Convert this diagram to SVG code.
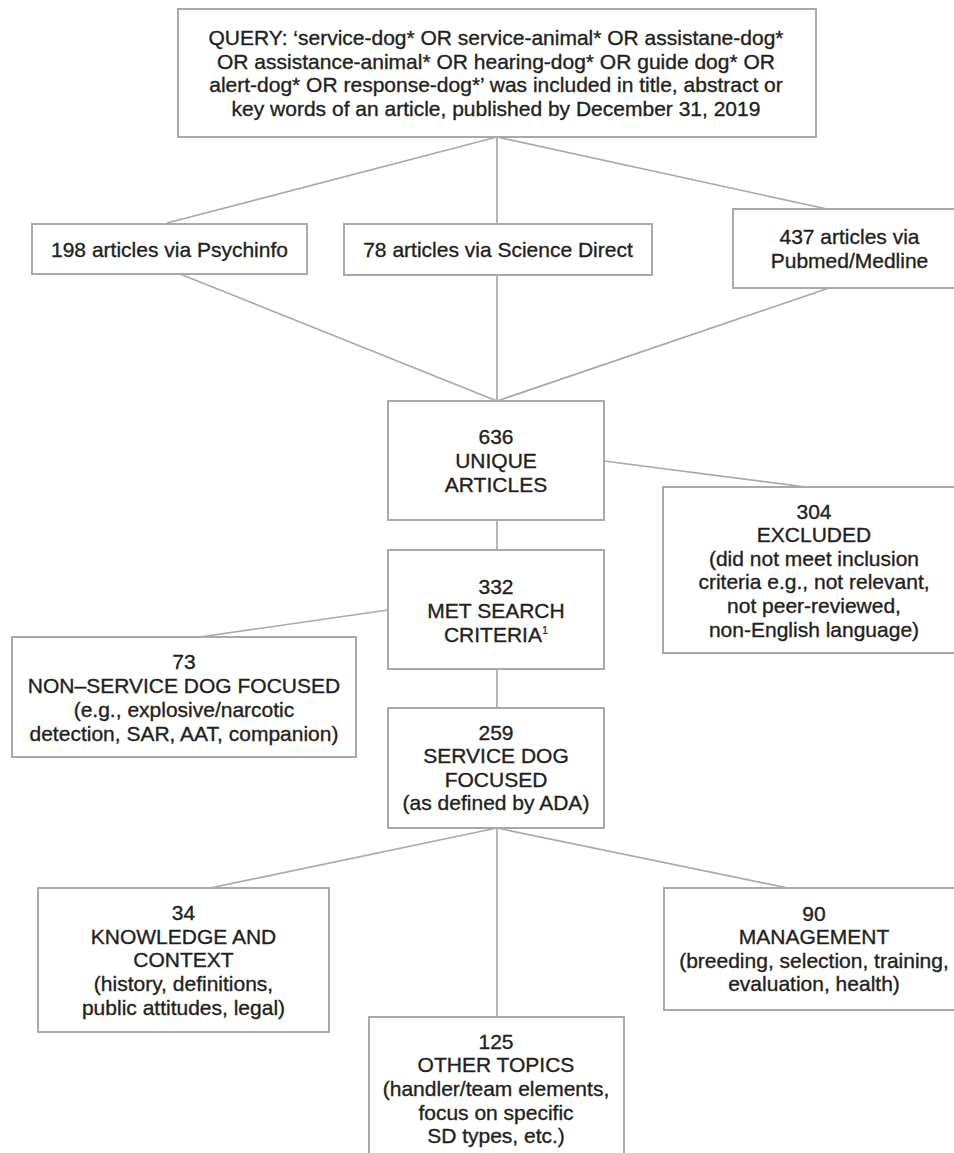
<svg xmlns="http://www.w3.org/2000/svg" width="954" height="1153" viewBox="0 0 954 1153">
<style>
.box{fill:#ffffff;stroke:#a7a9ac;stroke-width:2}
.edge{fill:none;stroke:#a7a9ac;stroke-width:1.7}
text{font-family:"Liberation Sans",Arial,Helvetica,sans-serif;font-size:21px;fill:#231f20;stroke:#231f20;stroke-width:0.35;text-anchor:middle}
.sup{font-size:11px;stroke-width:0.2}
</style>
<rect width="954" height="1153" fill="#ffffff"/>
<g id="connectors">
<line class="edge" x1="497" y1="137" x2="167" y2="223"/>
<line class="edge" x1="497" y1="137" x2="497" y2="224"/>
<line class="edge" x1="497" y1="137" x2="827" y2="209"/>
<line class="edge" x1="180" y1="274" x2="497" y2="401"/>
<line class="edge" x1="497" y1="275" x2="497" y2="401"/>
<line class="edge" x1="829" y1="288" x2="497" y2="401"/>
<line class="edge" x1="604" y1="461" x2="806" y2="487"/>
<line class="edge" x1="497" y1="520" x2="497" y2="550"/>
<line class="edge" x1="388" y1="610" x2="200" y2="637"/>
<line class="edge" x1="497" y1="669" x2="497" y2="708"/>
<line class="edge" x1="497" y1="828" x2="210" y2="888"/>
<line class="edge" x1="497" y1="828" x2="497" y2="1017"/>
<line class="edge" x1="497" y1="828" x2="788" y2="888"/>
</g>
<g id="query">
<rect class="box" x="178" y="9" width="638" height="128"/>
<text x="496" y="45">QUERY: ‘service-dog* OR service-animal* OR assistane-dog*</text>
<text x="496" y="68.5">OR assistance-animal* OR hearing-dog* OR guide dog* OR</text>
<text x="496" y="92">alert-dog* OR response-dog*’ was included in title, abstract or</text>
<text x="496" y="115.5">key words of an article, published by December 31, 2019</text>
</g>
<g id="psychinfo">
<rect class="box" x="32" y="224" width="275" height="50"/>
<text x="169.5" y="257">198 articles via Psychinfo</text>
</g>
<g id="sciencedirect">
<rect class="box" x="344" y="224" width="308" height="51"/>
<text x="498" y="257">78 articles via Science Direct</text>
</g>
<g id="pubmed">
<rect class="box" x="733" y="209" width="230" height="79"/>
<text x="849.5" y="244">437 articles via</text>
<text x="849.5" y="268">Pubmed/Medline</text>
</g>
<g id="unique">
<rect class="box" x="388" y="401" width="216" height="119"/>
<text x="496" y="444">636</text>
<text x="496" y="468">UNIQUE</text>
<text x="496" y="491.5">ARTICLES</text>
</g>
<g id="excluded">
<rect class="box" x="663" y="487" width="302" height="166"/>
<text x="814" y="518.5">304</text>
<text x="814" y="542">EXCLUDED</text>
<text x="814" y="565.7">(did not meet inclusion</text>
<text x="814" y="589.3">criteria e.g., not relevant,</text>
<text x="814" y="613">not peer-reviewed,</text>
<text x="814" y="636.5">non-English language)</text>
</g>
<g id="met">
<rect class="box" x="388" y="550" width="216" height="119"/>
<text x="496" y="594">332</text>
<text x="496" y="618">MET SEARCH</text>
<text x="496" y="642">CRITERIA<tspan class="sup" dy="-8">1</tspan></text>
</g>
<g id="nonservice">
<rect class="box" x="12" y="637" width="344" height="120"/>
<text x="184" y="668.5">73</text>
<text x="184" y="692.5">NON–SERVICE DOG FOCUSED</text>
<text x="184" y="716.5">(e.g., explosive/narcotic</text>
<text x="184" y="740.5">detection, SAR, AAT, companion)</text>
</g>
<g id="servicedog">
<rect class="box" x="388" y="708" width="216" height="120"/>
<text x="496" y="739.5">259</text>
<text x="496" y="763">SERVICE DOG</text>
<text x="496" y="786.5">FOCUSED</text>
<text x="496" y="810">(as defined by ADA)</text>
</g>
<g id="knowledge">
<rect class="box" x="38" y="888" width="291" height="144"/>
<text x="183.5" y="920">34</text>
<text x="183.5" y="943.7">KNOWLEDGE AND</text>
<text x="183.5" y="967.4">CONTEXT</text>
<text x="183.5" y="991">(history, definitions,</text>
<text x="183.5" y="1014.8">public attitudes, legal)</text>
</g>
<g id="management">
<rect class="box" x="664" y="888" width="301" height="122"/>
<text x="814" y="920.5">90</text>
<text x="814" y="944">MANAGEMENT</text>
<text x="814" y="967.5">(breeding, selection, training,</text>
<text x="814" y="991">evaluation, health)</text>
</g>
<g id="othertopics">
<rect class="box" x="369" y="1017" width="255" height="150"/>
<text x="496" y="1048.5">125</text>
<text x="496" y="1072.3">OTHER TOPICS</text>
<text x="496" y="1096">(handler/team elements,</text>
<text x="496" y="1119.7">focus on specific</text>
<text x="496" y="1143.4">SD types, etc.)</text>
</g>
</svg>
